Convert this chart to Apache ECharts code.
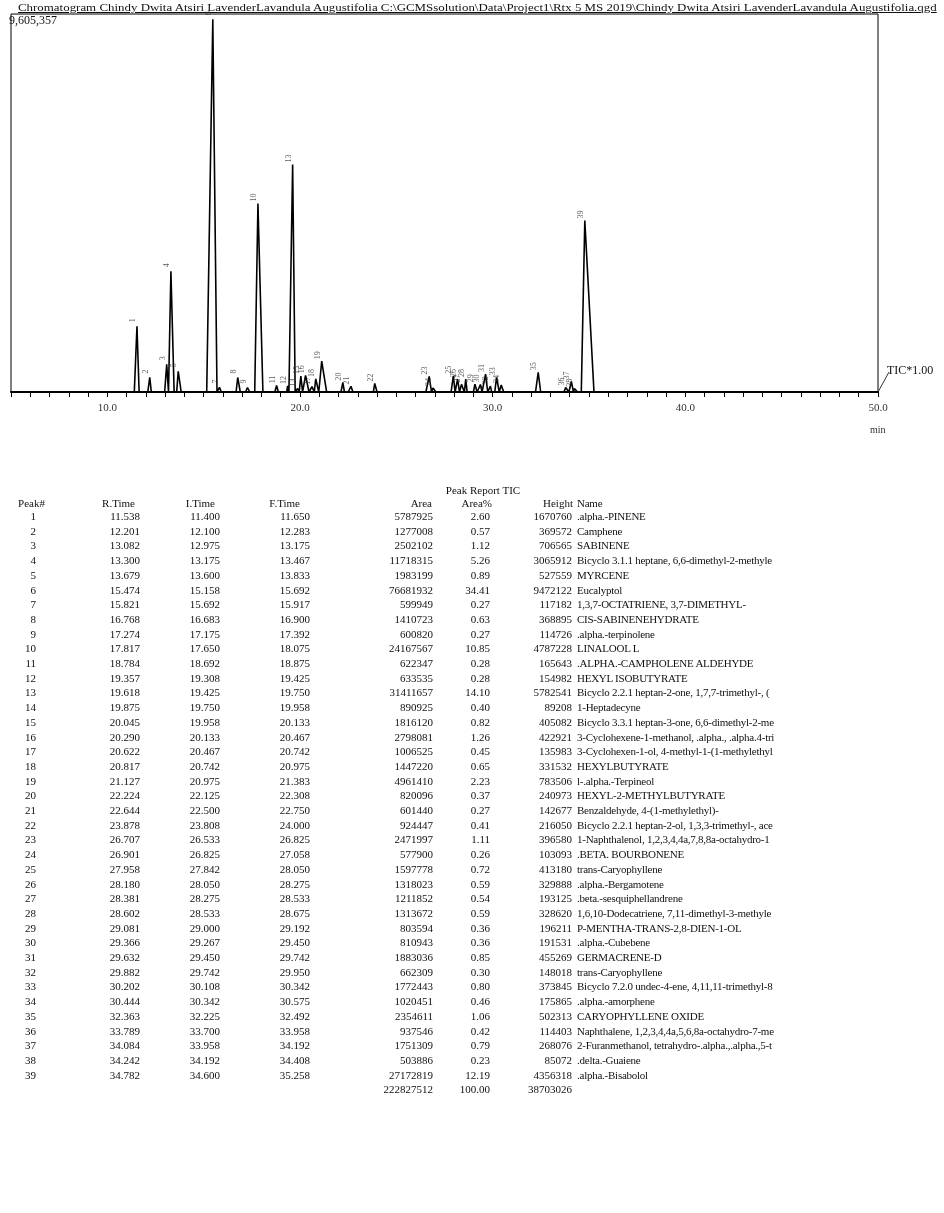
<!DOCTYPE html>
<html>
<head>
<meta charset="utf-8">
<script src="https://cdn.jsdelivr.net/npm/echarts@6/dist/echarts.min.js"></script>
<style>
  html, body { margin: 0; padding: 0; background: #fff; }
  body { width: 944px; height: 1213px; position: relative; overflow: hidden; font-family: "Liberation Serif", "DejaVu Serif", serif; color: #111; }
  #title { position: absolute; left: 18px; top: 1px; font-size: 11px; white-space: nowrap; text-decoration: underline; transform-origin: 0 0; }
  #chart { position: absolute; left: 0; top: 0; width: 944px; height: 470px; }
  #table { position: absolute; left: 0; top: 0; width: 944px; height: 1213px; font-size: 11px; }
  .c { position: absolute; white-space: nowrap; line-height: 14px; }
  .n { letter-spacing: -0.25px; }
</style>
</head>
<body>
<div id="chart"></div>
<div id="title">Chromatogram Chindy Dwita Atsiri LavenderLavandula Augustifolia C:\GCMSsolution\Data\Project1\Rtx 5 MS 2019\Chindy Dwita Atsiri LavenderLavandula Augustifolia.qgd</div>
<div id="table"></div>
<script>
const peakNo = [1,2,3,4,5,6,7,8,9,10,11,12,13,14,15,16,17,18,19,20,21,22,23,24,25,26,27,28,29,30,31,32,33,34,35,36,37,38,39];
const rTime = ["11.538","12.201","13.082","13.300","13.679","15.474","15.821","16.768","17.274","17.817","18.784","19.357","19.618","19.875","20.045","20.290","20.622","20.817","21.127","22.224","22.644","23.878","26.707","26.901","27.958","28.180","28.381","28.602","29.081","29.366","29.632","29.882","30.202","30.444","32.363","33.789","34.084","34.242","34.782"];
const iTime = ["11.400","12.100","12.975","13.175","13.600","15.158","15.692","16.683","17.175","17.650","18.692","19.308","19.425","19.750","19.958","20.133","20.467","20.742","20.975","22.125","22.500","23.808","26.533","26.825","27.842","28.050","28.275","28.533","29.000","29.267","29.450","29.742","30.108","30.342","32.225","33.700","33.958","34.192","34.600"];
const fTime = ["11.650","12.283","13.175","13.467","13.833","15.692","15.917","16.900","17.392","18.075","18.875","19.425","19.750","19.958","20.133","20.467","20.742","20.975","21.383","22.308","22.750","24.000","26.825","27.058","28.050","28.275","28.533","28.675","29.192","29.450","29.742","29.950","30.342","30.575","32.492","33.958","34.192","34.408","35.258"];
const area = [5787925,1277008,2502102,11718315,1983199,76681932,599949,1410723,600820,24167567,622347,633535,31411657,890925,1816120,2798081,1006525,1447220,4961410,820096,601440,924447,2471997,577900,1597778,1318023,1211852,1313672,803594,810943,1883036,662309,1772443,1020451,2354611,937546,1751309,503886,27172819];
const areaPct = ["2.60","0.57","1.12","5.26","0.89","34.41","0.27","0.63","0.27","10.85","0.28","0.28","14.10","0.40","0.82","1.26","0.45","0.65","2.23","0.37","0.27","0.41","1.11","0.26","0.72","0.59","0.54","0.59","0.36","0.36","0.85","0.30","0.80","0.46","1.06","0.42","0.79","0.23","12.19"];
const height = [1670760,369572,706565,3065912,527559,9472122,117182,368895,114726,4787228,165643,154982,5782541,89208,405082,422921,135983,331532,783506,240973,142677,216050,396580,103093,413180,329888,193125,328620,196211,191531,455269,148018,373845,175865,502313,114403,268076,85072,4356318];
const names = [".alpha.-PINENE","Camphene","SABINENE","Bicyclo 3.1.1 heptane, 6,6-dimethyl-2-methyle","MYRCENE","Eucalyptol","1,3,7-OCTATRIENE, 3,7-DIMETHYL-","CIS-SABINENEHYDRATE",".alpha.-terpinolene","LINALOOL L",".ALPHA.-CAMPHOLENE ALDEHYDE","HEXYL ISOBUTYRATE","Bicyclo 2.2.1 heptan-2-one, 1,7,7-trimethyl-, (","1-Heptadecyne","Bicyclo 3.3.1 heptan-3-one, 6,6-dimethyl-2-me","3-Cyclohexene-1-methanol, .alpha., .alpha.4-tri","3-Cyclohexen-1-ol, 4-methyl-1-(1-methylethyl","HEXYLBUTYRATE","l-.alpha.-Terpineol","HEXYL-2-METHYLBUTYRATE","Benzaldehyde, 4-(1-methylethyl)-","Bicyclo 2.2.1 heptan-2-ol, 1,3,3-trimethyl-, ace","1-Naphthalenol, 1,2,3,4,4a,7,8,8a-octahydro-1",".BETA. BOURBONENE","trans-Caryophyllene",".alpha.-Bergamotene",".beta.-sesquiphellandrene","1,6,10-Dodecatriene, 7,11-dimethyl-3-methyle","P-MENTHA-TRANS-2,8-DIEN-1-OL",".alpha.-Cubebene","GERMACRENE-D","trans-Caryophyllene","Bicyclo 7.2.0 undec-4-ene, 4,11,11-trimethyl-8",".alpha.-amorphene","CARYOPHYLLENE OXIDE","Naphthalene, 1,2,3,4,4a,5,6,8a-octahydro-7-me","2-Furanmethanol, tetrahydro-.alpha.,.alpha.,5-t",".delta.-Guaiene",".alpha.-Bisabolol"];
const totals = { area: "222827512", pct: "100.00", height: "38703026" };
const xTickLabels = [10, 20, 30, 40, 50];
const xMin = 5, xMax = 50;
const yMax = 9605357;

// fit the title to the width it spans in the reference
const titleEl = document.getElementById('title');
titleEl.style.transform = 'scaleX(' + (919 / titleEl.offsetWidth).toFixed(4) + ')';

// ---- chromatogram trace built from the peak table (start, apex, end of each peak) ----
const trace = [[xMin, 0]];
for (let i = 0; i < peakNo.length; i++) {
  trace.push([+iTime[i], 0]);
  trace.push([+rTime[i], height[i]]);
  trace.push([+fTime[i], 0]);
}
trace.push([xMax, 0]);
const apex = peakNo.map((n, i) => [+rTime[i], height[i], n]);

const chart = echarts.init(document.getElementById('chart'), null, { renderer: 'canvas' });
const serif = '"Liberation Serif", "DejaVu Serif", serif';
chart.setOption({
  animation: false,
  grid: { left: 11, right: 66, top: 14, bottom: 78, show: true, borderColor: '#000', borderWidth: 1 },
  xAxis: {
    type: 'value', min: xMin, max: xMax, interval: 1,
    axisLine: { onZero: false, lineStyle: { color: '#000', width: 2 } },
    axisTick: { show: true, length: 5, lineStyle: { color: '#000', width: 1 } },
    axisLabel: {
      interval: 0, showMaxLabel: true, margin: 11, color: '#333', fontFamily: serif, fontSize: 11,
      formatter: v => xTickLabels.indexOf(v) >= 0 ? v.toFixed(1) : ''
    },
    splitLine: { show: false }
  },
  yAxis: { type: 'value', min: 0, max: yMax, show: false, splitLine: { show: false } },
  series: [
    { type: 'line', data: trace, symbol: 'none', lineStyle: { color: '#000', width: 1.6 }, z: 3 },
    { type: 'scatter', data: apex, symbolSize: 0, silent: true, z: 4,
      label: { show: true, position: 'top', distance: 6, rotate: 90, fontSize: 8, color: '#333', fontFamily: serif,
        formatter: p => String(p.value[2]) } }
  ],
  graphic: [
    { type: 'text', left: 9, top: 15, style: { text: yMax.toLocaleString('en-US'), font: '12px ' + serif, fill: '#111' } },
    { type: 'line', shape: { x1: 878, y1: 392, x2: 889, y2: 372 }, style: { stroke: '#333', lineWidth: 1 } },
    { type: 'text', left: 887, top: 365, style: { text: 'TIC*1.00', font: '12px ' + serif, fill: '#111' } },
    { type: 'text', left: 870, top: 425, style: { text: 'min', font: '10px ' + serif, fill: '#333', textDecoration: 'underline' } }
  ]
});

// ---- peak report table ----
const tbl = document.getElementById('table');
function cell(text, x, y, align) {
  const d = document.createElement('div');
  d.className = 'c';
  d.textContent = text;
  d.style.top = y + 'px';
  if (align === 'right') { d.style.right = (944 - x) + 'px'; }
  else if (align === 'center') { d.style.left = x + 'px'; d.style.transform = 'translateX(-50%)'; }
  else { d.style.left = x + 'px'; d.className = 'c n'; }
  tbl.appendChild(d);
}
cell('Peak Report TIC', 483, 483, 'center');
const hdrY = 496;
cell('Peak#', 45, hdrY, 'right');
cell('R.Time', 135, hdrY, 'right');
cell('I.Time', 215, hdrY, 'right');
cell('F.Time', 300, hdrY, 'right');
cell('Area', 432, hdrY, 'right');
cell('Area%', 492, hdrY, 'right');
cell('Height', 573, hdrY, 'right');
cell('Name', 577, hdrY, 'left');
const rowH = 14.7, row0 = 509;
for (let i = 0; i < peakNo.length; i++) {
  const y = row0 + i * rowH;
  cell(String(peakNo[i]), 36, y, 'right');
  cell(rTime[i], 140, y, 'right');
  cell(iTime[i], 220, y, 'right');
  cell(fTime[i], 310, y, 'right');
  cell(String(area[i]), 433, y, 'right');
  cell(areaPct[i], 490, y, 'right');
  cell(String(height[i]), 572, y, 'right');
  cell(names[i], 577, y, 'left');
}
const yt = row0 + peakNo.length * rowH;
cell(totals.area, 433, yt, 'right');
cell(totals.pct, 490, yt, 'right');
cell(totals.height, 572, yt, 'right');
</script>
</body>
</html>
